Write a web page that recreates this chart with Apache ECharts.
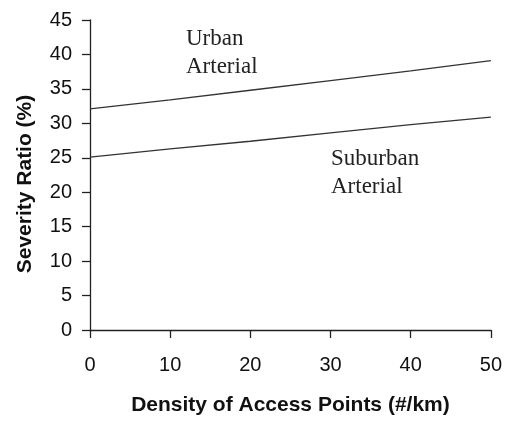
<!DOCTYPE html>
<html>
<head>
<meta charset="utf-8">
<script src="https://cdn.jsdelivr.net/npm/echarts@6/dist/echarts.min.js"></script>
<style>
html,body{margin:0;padding:0;background:#fff;}
#main{width:505px;height:422px;}
</style>
</head>
<body>
<div id="main"></div>
<script>
// density of access points (#/km)
var density = [0, 10, 20, 30, 40, 50];
// severity ratio (%)
var urban = [32.1, 33.4, 34.8, 36.2, 37.6, 39.1];
var suburban = [25.1, 26.3, 27.4, 28.6, 29.8, 30.9];

var myChart = echarts.init(document.getElementById('main'));

function pairs(xs, ys) {
	var out = [];
	for (var i = 0; i < xs.length; i++) {
		out.push([xs[i], ys[i]]);
	}
	return out;
}

var axisText = {color: '#111', fontFamily: 'Liberation Sans', fontSize: 20};
var nameText = {color: '#111', fontFamily: 'Liberation Sans', fontSize: 21, fontWeight: 'bold'};

var option = {
	animation: false,
	grid: {left: 90, right: 14, top: 20, bottom: 92},
	xAxis: {
		type: 'value',
		min: 0, max: 50, interval: 10,
		name: 'Density of Access Points (#/km)',
		nameLocation: 'middle',
		nameGap: 65,
		nameTextStyle: nameText,
		axisLine: {show: true, lineStyle: {color: '#222', width: 1.3}},
		axisTick: {show: true, length: 8, lineStyle: {color: '#222', width: 1.3}},
		axisLabel: Object.assign({margin: 25}, axisText),
		splitLine: {show: false}
	},
	yAxis: {
		type: 'value',
		min: 0, max: 45, interval: 5,
		name: 'Severity Ratio (%)',
		nameLocation: 'middle',
		nameGap: 54,
		nameRotate: 90,
		nameTextStyle: Object.assign({padding: [0, 18, 0, 0]}, nameText),
		axisLine: {show: true, lineStyle: {color: '#222', width: 1.3}},
		axisTick: {show: true, length: 8, lineStyle: {color: '#222', width: 1.3}},
		axisLabel: Object.assign({margin: 18}, axisText),
		splitLine: {show: false}
	},
	series: [{
		name: 'Urban Arterial',
		type: 'line',
		data: pairs(density, urban),
		showSymbol: false,
		lineStyle: {color: '#333', width: 1.3}
	}, {
		name: 'Suburban Arterial',
		type: 'line',
		data: pairs(density, suburban),
		showSymbol: false,
		lineStyle: {color: '#333', width: 1.3}
	}],
	graphic: [{
		type: 'text', left: 186, top: 25,
		style: {text: 'Urban\nArterial', font: '23px "Liberation Serif"', fill: '#222', lineHeight: 28}
	}, {
		type: 'text', left: 331, top: 145,
		style: {text: 'Suburban\nArterial', font: '23px "Liberation Serif"', fill: '#222', lineHeight: 28}
	}]
};

myChart.setOption(option);
</script>
</body>
</html>
